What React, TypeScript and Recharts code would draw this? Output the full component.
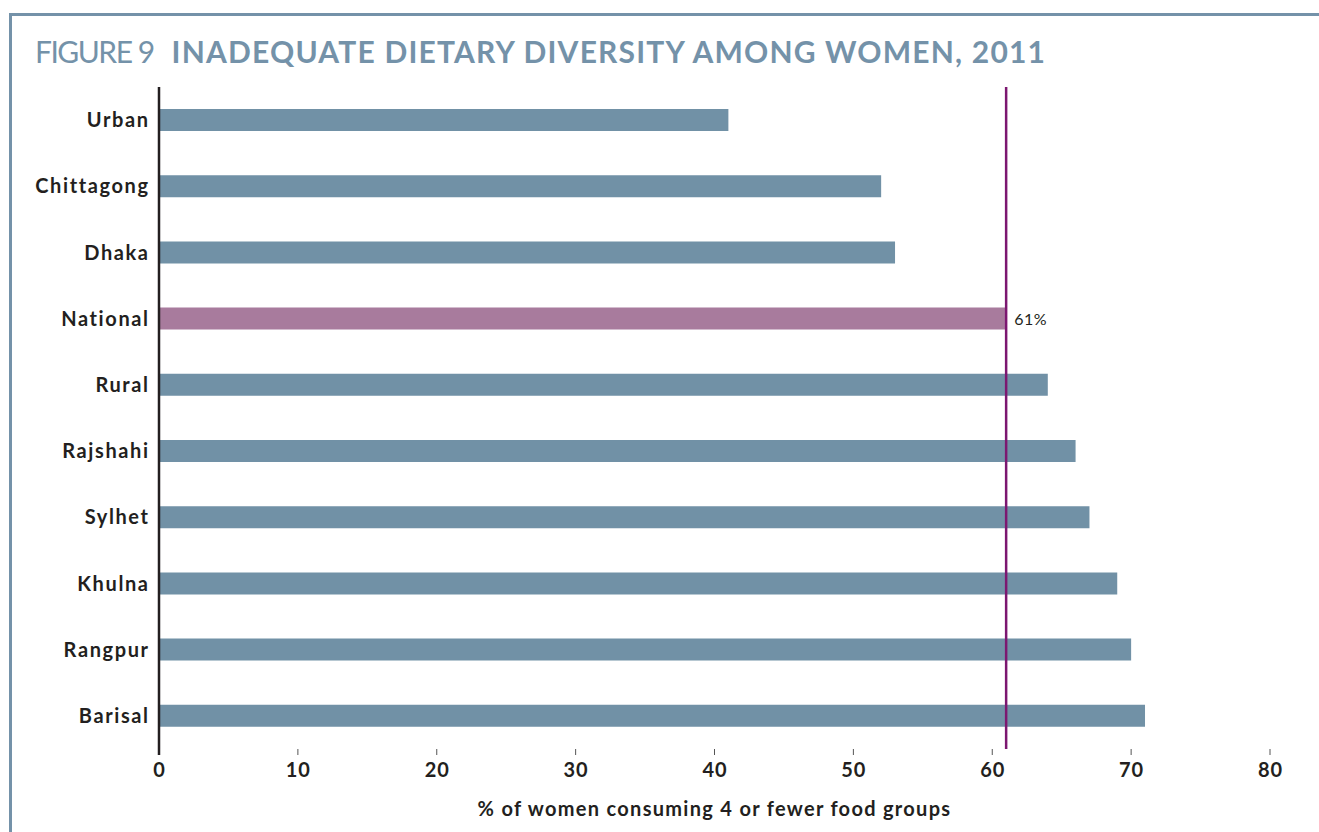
import React from 'react';
import { BarChart, Bar, XAxis, YAxis, Cell, ReferenceLine, LabelList } from 'recharts';

const categories = ['Urban', 'Chittagong', 'Dhaka', 'National', 'Rural', 'Rajshahi', 'Sylhet', 'Khulna', 'Rangpur', 'Barisal'];
const values = [41, 52, 53, 61, 64, 66, 67, 69, 70, 71];
const xTicks = [0, 10, 20, 30, 40, 50, 60, 70, 80];
const nationalValue = 61;
const highlightCategory = 'National';

const data = categories.map((c, i) => ({ name: c, value: values[i] }));

const FONT = 'Lato, "Open Sans", sans-serif';
const BLUE = '#7191a6';
const MAUVE = '#a87b9d';
const PURPLE = '#7c1770';
const TITLE = '#7492a9';

const XTick = (props: any) => {
  const { x, y, payload } = props;
  const isZero = payload.value === 0;
  return (
    <g>
      <line x1={x} x2={x} y1={y} y2={y + 6} stroke={isZero ? '#231f20' : '#555'} strokeWidth={isZero ? 2.5 : 1} />
      <text x={x + 0.5} y={y + 28} textAnchor="middle" fontFamily={FONT} fontWeight={700} fontSize={20} letterSpacing={1} fill="#231f20">
        {payload.value}
      </text>
    </g>
  );
};

const YTick = (props: any) => {
  const { x, y, payload } = props;
  return (
    <text x={x + 1.6} y={y + 7} textAnchor="end" fontFamily={FONT} fontWeight={700} fontSize={20} letterSpacing={1.6} fill="#231f20">
      {payload.value}
    </text>
  );
};

const NationalLabel = (props: any) => {
  const { x, y, width, height, value, index } = props;
  if (categories[index] !== highlightCategory) return null;
  return (
    <text x={x + width + 8} y={y + height / 2 + 6} fontFamily={FONT} fontSize={16} letterSpacing={0.5} fill="#231f20">
      {value}%
    </text>
  );
};

export default function App() {
  return (
    <div style={{ position: 'absolute', left: 0, top: 0, width: 1319, height: 832, background: '#fff', overflow: 'hidden' }}>
      <div style={{ position: 'absolute', left: 9, top: 13, width: 1310, height: 830, borderTop: `3px solid ${TITLE}`, borderLeft: `3px solid ${TITLE}`, boxSizing: 'border-box' }} />
      <div style={{ position: 'absolute', left: 35, top: 33, fontFamily: FONT, fontSize: 30, color: TITLE, whiteSpace: 'nowrap', lineHeight: '36px' }}>
        <span style={{ fontWeight: 400, letterSpacing: -1.5 }}>FIGURE 9</span>
        <span style={{ fontWeight: 700, marginLeft: 18, letterSpacing: 1.2 }}>INADEQUATE DIETARY DIVERSITY AMONG WOMEN, 2011</span>
      </div>
      <div style={{ position: 'absolute', left: 0, top: 0 }}>
        <BarChart
          width={1319}
          height={832}
          data={data}
          layout="vertical"
          margin={{ top: 87, right: 49, bottom: 13, left: 9 }}
          barCategoryGap={0}
        >
          <XAxis
            type="number"
            domain={[0, 80]}
            ticks={xTicks}
            axisLine={false}
            tickLine={false}
            tickSize={0}
            tickMargin={0}
            height={70}
            tick={<XTick />}
            interval={0}
            label={{ value: '% of women consuming 4 or fewer food groups', position: 'insideBottom', offset: 3, fontFamily: FONT, fontWeight: 700, fontSize: 20, letterSpacing: 1.3, fill: '#231f20' }}
          />
          <YAxis
            type="category"
            dataKey="name"
            width={150}
            axisLine={{ stroke: '#231f20', strokeWidth: 2.5 }}
            tickLine={false}
            tickSize={0}
            tickMargin={11}
            interval={0}
            tick={<YTick />}
          />
          <Bar dataKey="value" barSize={22} isAnimationActive={false}>
            {data.map((d) => (
              <Cell key={d.name} fill={d.name === highlightCategory ? MAUVE : BLUE} />
            ))}
            <LabelList dataKey="value" content={<NationalLabel />} />
          </Bar>
          <ReferenceLine x={nationalValue} stroke={PURPLE} strokeWidth={2.5} ifOverflow="extendDomain" />
        </BarChart>
      </div>
    </div>
  );
}
